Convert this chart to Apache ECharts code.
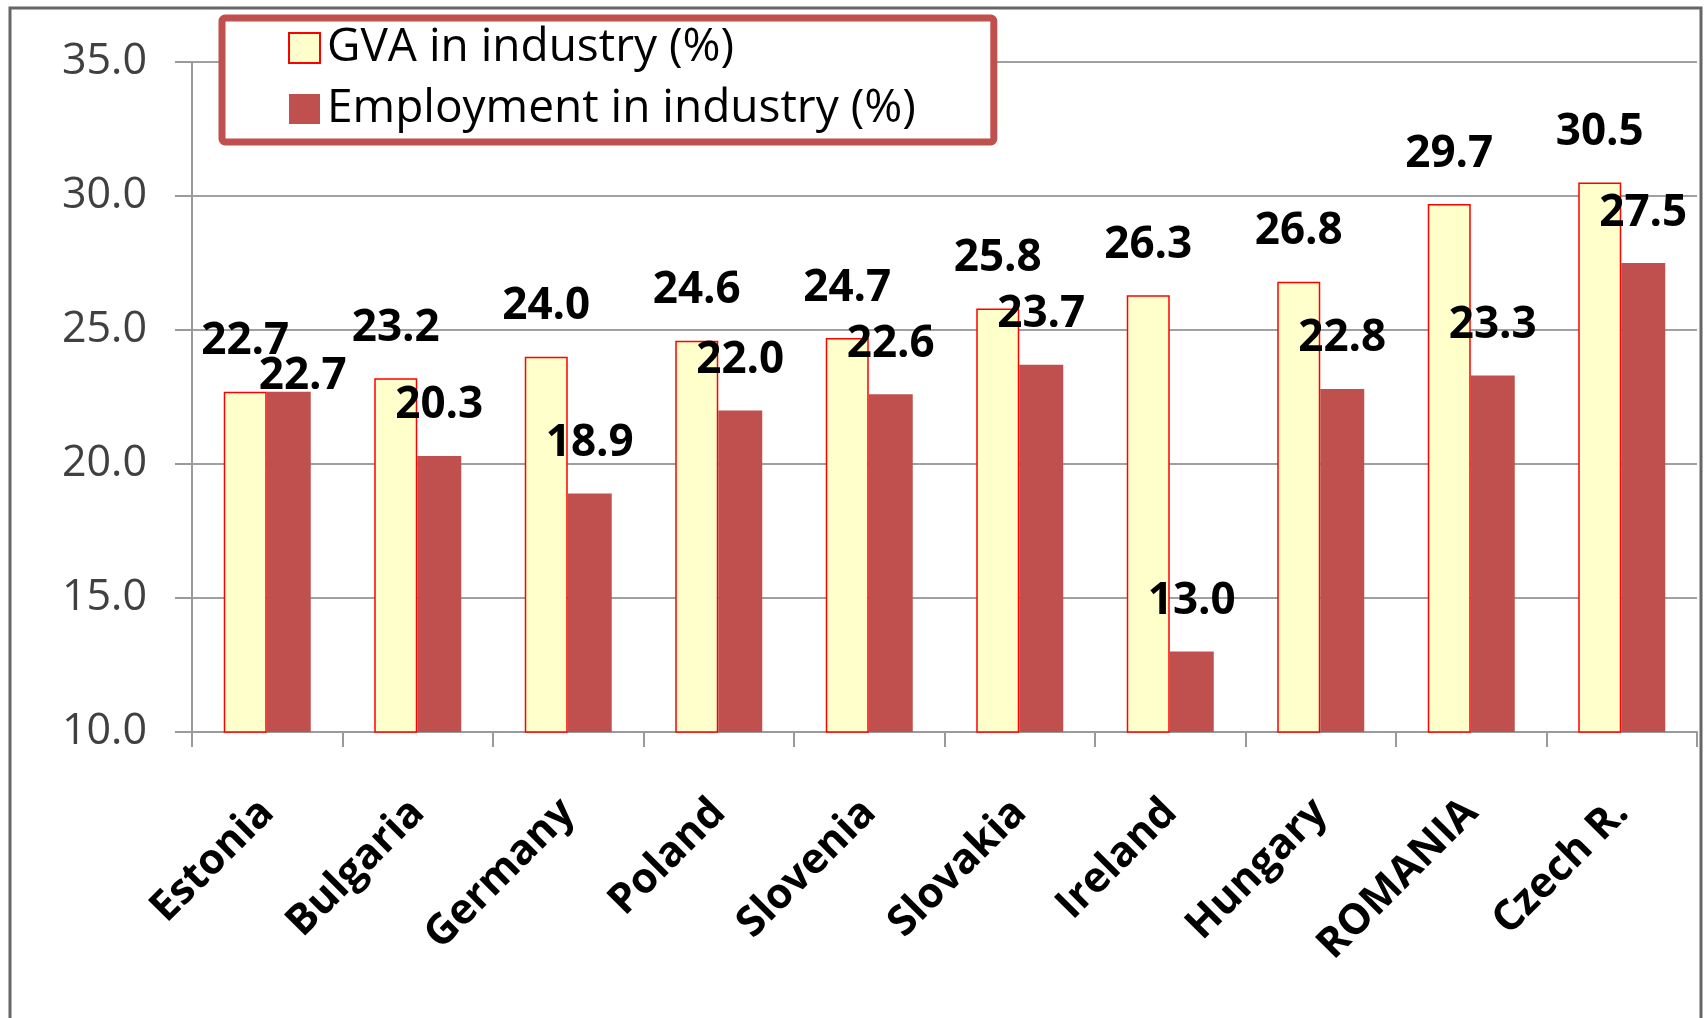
<!DOCTYPE html>
<html>
<head>
<meta charset="utf-8">
<script src="https://cdn.jsdelivr.net/npm/echarts@6/dist/echarts.min.js"></script>
<style>
html, body { margin: 0; padding: 0; background: #fff; }
#chart { width: 1707px; height: 1018px; }
</style>
</head>
<body>
<div id="chart"></div>
<script type="text/javascript">
// data
var countries = ['Estonia', 'Bulgaria', 'Germany', 'Poland', 'Slovenia', 'Slovakia', 'Ireland', 'Hungary', 'ROMANIA', 'Czech R.'];
var gvaIndustry = [22.7, 23.2, 24.0, 24.6, 24.7, 25.8, 26.3, 26.8, 29.7, 30.5];
var empIndustry = [22.7, 20.3, 18.9, 22.0, 22.6, 23.7, 13.0, 22.8, 23.3, 27.5];
var yTicks = { min: 10, max: 35, step: 5 };

var chart = echarts.init(document.getElementById('chart'));

var labelStyle = {
    show: true,
    position: 'top',
    distance: 28,
    fontFamily: 'Open Sans',
    fontWeight: 'bold',
    fontSize: 44,
    color: '#000',
    formatter: function (p) { return p.value.toFixed(1); }
};

// the first employment label was moved down/right by hand in the original
var empData = empIndustry.map(function (v, i) {
    return i === 0 ? { value: v, label: { offset: [14, 35] } } : v;
});

var option = {
    animation: false,
    backgroundColor: '#fff',
    textStyle: { fontFamily: 'Open Sans' },
    graphic: [{
        type: 'rect',
        silent: true,
        z: -10,
        shape: { x: 10, y: 8, width: 1691, height: 1100 },
        style: { fill: 'none', stroke: '#666', lineWidth: 3 }
    }],
    grid: { left: 192, right: 10, top: 62, bottom: 286 },
    legend: {
        orient: 'vertical',
        left: 222,
        top: 18,
        padding: [7, 78, 10, 66],
        itemGap: 15,
        itemWidth: 31,
        itemHeight: 30,
        backgroundColor: '#fff',
        borderColor: '#C0504D',
        borderWidth: 7,
        borderRadius: 3,
        textStyle: { fontFamily: 'Open Sans', fontSize: 46, lineHeight: 44, color: '#000', padding: [0, 0, 0, 2] },
        data: [
            { name: 'GVA in industry (%)', icon: 'rect' },
            { name: 'Employment in industry (%)', icon: 'rect' }
        ],
        z: 10
    },
    xAxis: {
        type: 'category',
        data: countries,
        axisLine: { lineStyle: { color: '#9a9a9a', width: 2 } },
        axisTick: { show: true, length: 15, lineStyle: { color: '#9a9a9a', width: 2 } },
        axisLabel: {
            interval: 0,
            rotate: 45,
            margin: 74,
            fontFamily: 'Open Sans',
            fontWeight: 'bold',
            fontSize: 42,
            color: '#000'
        }
    },
    yAxis: {
        type: 'value',
        min: yTicks.min,
        max: yTicks.max,
        interval: yTicks.step,
        axisLine: { show: true, lineStyle: { color: '#9a9a9a', width: 2 } },
        axisTick: { show: true, length: 17, lineStyle: { color: '#9a9a9a', width: 2 } },
        splitLine: { lineStyle: { color: '#a0a0a0', width: 2 } },
        axisLabel: {
            margin: 45,
            fontFamily: 'Open Sans',
            fontSize: 43,
            color: '#404040',
            formatter: function (v) { return v.toFixed(1); }
        }
    },
    series: [
        {
            name: 'GVA in industry (%)',
            type: 'bar',
            data: gvaIndustry,
            barWidth: 43,
            barGap: '0%',
            itemStyle: { color: '#FFFFCC', borderColor: '#FF0000', borderWidth: 1.5 },
            label: labelStyle
        },
        {
            name: 'Employment in industry (%)',
            type: 'bar',
            data: empData,
            barWidth: 44,
            barGap: '0%',
            itemStyle: { color: '#C0504D' },
            label: labelStyle
        }
    ]
};

chart.setOption(option);
</script>
</body>
</html>
